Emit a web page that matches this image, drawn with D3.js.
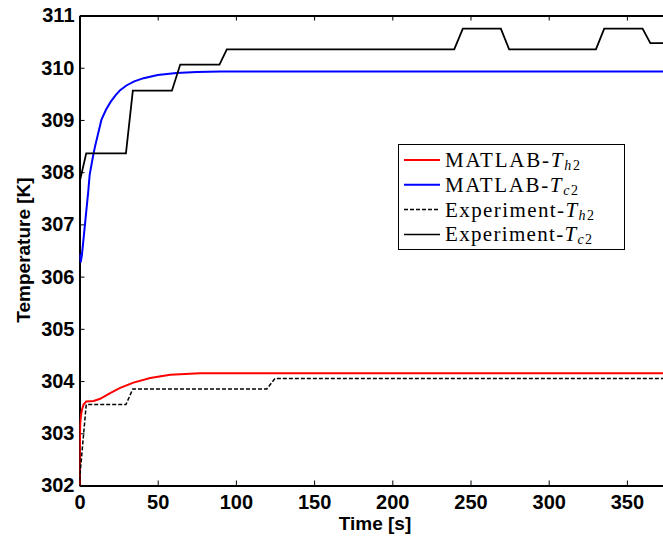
<!DOCTYPE html>
<html><head><meta charset="utf-8">
<script src="https://cdn.jsdelivr.net/npm/d3@7"></script>
<style>html,body{margin:0;padding:0;background:#fff;}svg{display:block;}</style>
</head><body>
<svg id="chart" width="663" height="536"></svg>
<script>
// ---- data ----
const timeTicks = [0, 50, 100, 150, 200, 250, 300, 350];
const tempTicks = [302, 303, 304, 305, 306, 307, 308, 309, 310, 311];

const matlabTh2Time = [0, 0.2, 0.45, 1, 1.5, 2.6, 4.3, 9, 13.2, 19.6, 26, 34.5, 45.2, 58, 77, 100, 375];
const matlabTh2 = [302.0, 302.7, 303.18, 303.35, 303.44, 303.55, 303.61, 303.62, 303.66, 303.77, 303.87, 303.97, 304.06, 304.12, 304.15, 304.15, 304.15];

const matlabTc2Time = [0, 0.7, 1.5, 2.5, 3.5, 4.5, 5.5, 6.5, 8, 9, 10, 12, 14, 17, 20, 23, 26, 30, 35, 41, 50, 62, 75, 90, 110, 150, 200, 250, 300, 375];
const matlabTc2 = [306.44, 306.27, 306.4, 306.7, 307.0, 307.3, 307.6, 307.95, 308.2, 308.36, 308.5, 308.75, 309.0, 309.2, 309.35, 309.47, 309.57, 309.66, 309.74, 309.8, 309.86, 309.9, 309.92, 309.93, 309.93, 309.93, 309.93, 309.93, 309.93, 309.93];

const expTh2Time = [0, 4.3, 29.7, 34.1, 119.8, 125, 375];
const expTh2 = [302.1, 303.55, 303.55, 303.85, 303.85, 304.05, 304.05];

const expTc2Time = [0, 4.3, 29.7, 34.1, 59.1, 64.4, 89.5, 94.2, 239.6, 245.1, 269.4, 274.7, 330.2, 335.5, 360, 365, 375];
const expTc2 = [307.8, 308.36, 308.36, 309.56, 309.56, 310.06, 310.06, 310.35, 310.35, 310.75, 310.75, 310.35, 310.35, 310.75, 310.75, 310.47, 310.47];

const legendNames = ["MATLAB-", "MATLAB-", "Experiment-", "Experiment-"];
const legendSubs = ["h", "c", "h", "c"];

// ---- layout ----
const svg = d3.select("#chart");
const L = 79.5, T = 15.5, B = 485.5;
const x = d3.scaleLinear().domain([0, 375]).range([L, L + 375 * 1.564]);
const y = d3.scaleLinear().domain([302, 311]).range([B, T]);

svg.append("defs").append("clipPath").attr("id", "clip")
  .append("rect").attr("x", L).attr("y", T).attr("width", 663 - L).attr("height", B - T);

const font = "'Liberation Sans', Arial, Helvetica, sans-serif";

// axes
const xAxis = svg.append("g").attr("transform", `translate(0,${B})`)
  .call(d3.axisBottom(x).tickValues(timeTicks).tickSizeInner(-5).tickSizeOuter(0).tickPadding(9).tickFormat(d3.format("d")));
const xTop = svg.append("g").attr("transform", `translate(0,${T})`)
  .call(d3.axisTop(x).tickValues(timeTicks).tickSizeInner(-5).tickSizeOuter(0).tickFormat(""));
const yAxis = svg.append("g").attr("transform", `translate(${L},0)`)
  .call(d3.axisLeft(y).tickValues(tempTicks).tickSizeInner(-5).tickSizeOuter(0).tickPadding(5).tickFormat(d3.format("d")));

[xAxis, xTop, yAxis].forEach(g => {
  g.select(".domain").attr("stroke", "#000").attr("stroke-width", 2);
  g.selectAll(".tick line").attr("stroke", "#000").attr("stroke-width", 1);
  g.selectAll(".tick text").attr("fill", "#000").attr("font-family", font)
    .attr("font-weight", "bold").attr("font-size", 20);
});
xAxis.selectAll(".tick").filter(d => d === 0).select("line").remove();
xTop.selectAll(".tick").filter(d => d === 0).select("line").remove();

// titles
svg.append("text").attr("x", 375).attr("y", 530).attr("text-anchor", "middle")
  .attr("font-family", font).attr("font-weight", "bold").attr("font-size", 19).text("Time [s]");
svg.append("text").attr("transform", "translate(30,250) rotate(-90)").attr("text-anchor", "middle")
  .attr("font-family", font).attr("font-weight", "bold").attr("font-size", 19).text("Temperature [K]");

// lines
const series = [
  { t: matlabTh2Time, v: matlabTh2, color: "#ff0000", w: 2, dash: null },
  { t: matlabTc2Time, v: matlabTc2, color: "#0000ff", w: 2, dash: null },
  { t: expTh2Time, v: expTh2, color: "#000", w: 1.5, dash: "4,2" },
  { t: expTc2Time, v: expTc2, color: "#000", w: 1.8, dash: null }
];
const line = d3.line().x(d => x(d[0])).y(d => y(d[1]));
const plot = svg.append("g").attr("clip-path", "url(#clip)");
series.forEach(s => {
  plot.append("path").datum(s.t.map((t, i) => [t, s.v[i]]))
    .attr("d", line).attr("fill", "none").attr("stroke", s.color)
    .attr("stroke-width", s.w).attr("stroke-dasharray", s.dash);
});

// legend
const legendWidths = [135, 133, 149, 147];
const lg = svg.append("g");
lg.append("rect").attr("x", 398.5).attr("y", 144.5).attr("width", 226).attr("height", 105)
  .attr("fill", "#fff").attr("stroke", "#000").attr("stroke-width", 1);
series.forEach((s, i) => {
  const ly = 160 + i * 24.8;
  lg.append("line").attr("x1", 404).attr("x2", 440).attr("y1", ly).attr("y2", ly)
    .attr("stroke", s.color).attr("stroke-width", s.w === 2 ? 2 : 1.5).attr("stroke-dasharray", s.dash);
  const tx = lg.append("text").attr("x", 445).attr("y", ly + 7)
    .attr("font-family", "'Liberation Serif', 'Times New Roman', serif").attr("font-size", 21).attr("fill", "#000")
    .attr("textLength", legendWidths[i]).attr("lengthAdjust", "spacing");
  tx.append("tspan").text(legendNames[i]);
  tx.append("tspan").attr("font-style", "italic").text("T");
  tx.append("tspan").attr("font-style", "italic").attr("font-size", 14).attr("dy", 3).text(legendSubs[i]);
  tx.append("tspan").attr("font-size", 14).text("2");
});
</script>
</body></html>
